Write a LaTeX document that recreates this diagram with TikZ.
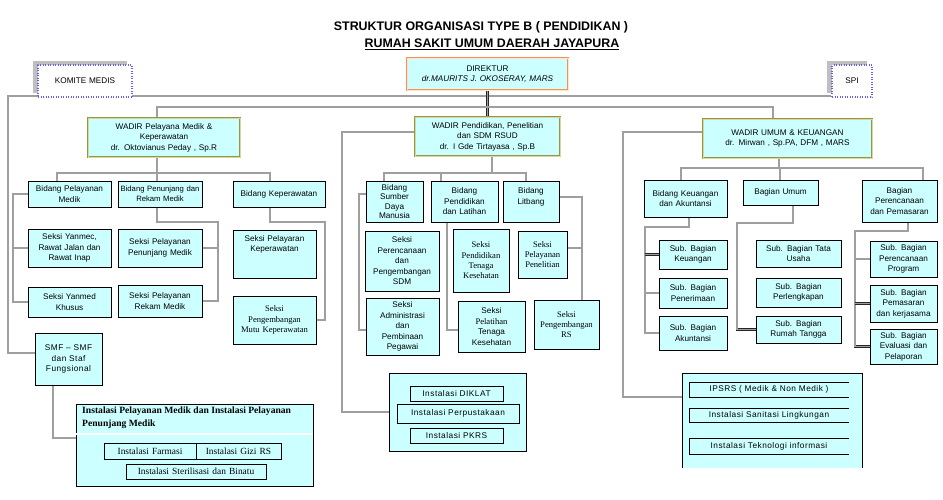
\documentclass[tikz,border=0pt]{standalone}
\usepackage{fontspec}
\setmainfont{Liberation Serif}
\setsansfont{Liberation Sans}
\newfontfamily\sfwide[LetterSpace=6]{Liberation Sans}
\pgfdeclarelayer{bg}
\pgfsetlayers{bg,main}
\definecolor{cy}{RGB}{204,255,255}
\definecolor{olv}{RGB}{150,150,70}
\definecolor{olvin}{RGB}{215,215,160}
\definecolor{org}{RGB}{255,140,80}
\definecolor{dotb}{RGB}{100,100,230}
\newcommand\fs{\sffamily\fontsize{8.2}{10.5}\selectfont}
\newcommand\fr{\rmfamily\fontsize{8.6}{10.3}\selectfont}
\newcommand\fri{\rmfamily\fontsize{9.4}{11}\selectfont}
\newcommand\fw{\sfwide\fontsize{8.3}{10.5}\selectfont}
\tikzset{
 bx/.style={draw=black,line width=0.5pt,fill=cy,inner sep=1pt,align=center,font=\fs},
 wadir/.style={draw=olv,line width=0.6pt,double=olvin,double distance=0.9pt},
 pipe/.style={draw=black!85,line width=0.6pt,double=gray!75,double distance=1.1pt,line join=miter},
 dotbox/.style={fill=white,draw=dotb,dotted,line width=1.3pt},
}
\newcommand\Bx[7][]{%
 \pgfmathsetmacro\bxw{#5-#3}\pgfmathsetmacro\bxh{#6-#4}\pgfmathsetmacro\bxt{#5-#3-2}%
 \pgfmathsetmacro\bxcx{(#3+#5)/2}\pgfmathsetmacro\bxcy{(#4+#6)/2}%
 \node[bx,minimum width=\bxw pt,minimum height=\bxh pt,text width=\bxt pt,#1] (#2) at (\bxcx,\bxcy) {#7};}
\begin{document}
\begin{tikzpicture}[x=1pt,y=-1pt]
\useasboundingbox (0,0) rectangle (943,499);
\begin{pgfonlayer}{bg}
\fill[white] (0,0) rectangle (943,499);
\end{pgfonlayer}

% title
\node[font=\sffamily\bfseries\fontsize{12.4}{14}\selectfont] (t1) at (481,27) {STRUKTUR ORGANISASI TYPE B ( PENDIDIKAN )};
\node[font=\sffamily\bfseries\fontsize{12.4}{14}\selectfont] (t2) at (492,44) {\underline{RUMAH SAKIT UMUM DAERAH JAYAPURA}};

% top
\Bx[draw=org,line width=0.6pt,double=orange!20,double distance=0.9pt]{dir}{407}{58}{568}{90}{DIREKTUR\\\itshape dr.MAURITS J. OKOSERAY, MARS}
\fill[gray!50] (33,61) rectangle (127,93);
\Bx[dotbox]{km}{38}{65}{132}{97}{KOMITE MEDIS}
\fill[gray!50] (827,61) rectangle (867,93);
\Bx[dotbox]{spi}{832}{65}{872}{97}{SPI}

\Bx[wadir]{w1}{88}{118}{240}{157}{WADIR Pelayana Medik \&\\Keperawatan\\dr. Oktovianus Peday , Sp.R}
\Bx[wadir]{w2}{415}{117}{560}{156}{WADIR Pendidikan, Penelitian\\dan SDM RSUD\\dr. I Gde Tirtayasa , Sp.B}
\Bx[wadir]{w3}{703}{119}{872}{158}{WADIR UMUM \& KEUANGAN\\dr. Mirwan , Sp.PA, DFM , MARS}

% left column
\Bx{bpm}{28}{181}{111}{207}{Bidang Pelayanan\\Medik}
\Bx[font=\sffamily\fontsize{7.7}{10}\selectfont]{bpr}{118}{181}{202}{207}{Bidang Penunjang dan\\Rekam Medik}
\Bx{bkp}{233}{181}{325}{207}{Bidang Keperawatan}
\Bx{sym}{28}{229}{111}{267}{Seksi Yanmec,\\Rawat Jalan dan\\Rawat Inap}
\Bx{syk}{28}{287}{111}{317}{Seksi Yanmed\\Khusus}
\Bx{spm}{118}{229}{202}{267}{Seksi Pelayanan\\Penunjang Medik}
\Bx{srm}{118}{285}{202}{317}{Seksi Pelayanan\\Rekam Medik}
\Bx{spk}{233}{230}{316}{278}{Seksi Pelayaran\\Keperawatan\\~\\~}
\Bx[font=\fr]{smk}{233}{296}{316}{344}{Seksi\\Pengembangan\\Mutu Keperawatan}
\Bx[font=\fw]{smf}{35}{333}{102}{385}{SMF – SMF\\dan Staf\\Fungsional}
\Bx{i1}{76}{404}{313}{486}{}
\draw[black,line width=0.4pt,double,double distance=1.2pt] (i1.west |- 0,434) -- (i1.east |- 0,434);
\node[anchor=north west,inner sep=0,align=left,font=\rmfamily\bfseries\fontsize{9.6}{12.5}\selectfont] (i1h) at (82,407) {Instalasi Pelayanan Medik dan Instalasi Pelayanan\\Penunjang Medik};
\Bx[font=\fri]{far}{104}{443}{196}{459}{Instalasi Farmasi}
\Bx[font=\fri]{gizi}{196}{443}{281}{459}{Instalasi Gizi RS}
\Bx[font=\fri]{ster}{126}{464}{266}{479}{Instalasi Sterilisasi dan Binatu}

% middle column
\Bx[font=\fs\fontsize{8.2}{9.2}\selectfont]{bsdm}{366}{181}{423}{222}{Bidang\\Sumber\\Daya\\Manusia}
\Bx{bpl}{431}{181}{498}{222}{Bidang\\Pendidikan\\dan Latihan}
\Bx{blit}{503}{181}{559}{222}{Bidang\\Litbang\\~}
\Bx{sps}{365}{231}{439}{291}{Seksi\\Perencanaan\\dan\\Pengembangan\\SDM}
\Bx{sap}{366}{298}{439}{355}{Seksi\\Administrasi\\dan\\Pembinaan\\Pegawai}
\Bx[font=\fr]{spd}{453}{229}{509}{292}{Seksi\\Pendidikan\\Tenaga\\Kesehatan}
\Bx{spl}{458}{301}{525}{352}{Seksi\\{\fr Pelatihan}\\Tenaga\\Kesehatan}
\Bx[font=\fr]{spp}{518}{231}{567}{278}{Seksi\\Pelayanan\\Penelitian}
\Bx[font=\fr]{sprs}{534}{300}{599}{349}{Seksi\\Pengembangan\\RS}
\Bx{i2}{389}{373}{526}{451}{}
\Bx[font=\fw]{dik}{410}{386}{503}{401}{Instalasi DIKLAT}
\Bx[font=\fw]{per}{397}{404}{519}{423}{Instalasi Perpustakaan}
\Bx[font=\fw]{pk}{410}{428}{503}{443}{Instalasi PKRS}

% right column
\Bx{bka}{644}{180}{727}{217}{Bidang Keuangan\\dan Akuntansi}
\Bx{bum}{743}{180}{818}{205}{Bagian Umum}
\Bx{bpp}{862}{180}{937}{222}{Bagian\\Perencanaan\\dan Pemasaran}
\Bx{sbk}{659}{240}{727}{269}{Sub. Bagian\\Keuangan}
\Bx{sbp}{659}{278}{727}{308}{Sub. Bagian\\Penerimaan}
\Bx{sba}{659}{316}{727}{350}{Sub. Bagian\\Akuntansi}
\Bx{sbtu}{756}{240}{841}{267}{Sub. Bagian Tata\\Usaha}
\Bx{sbpl}{756}{278}{841}{307}{Sub. Bagian\\Perlengkapan}
\Bx{sbrt}{756}{316}{841}{343}{Sub. Bagian\\Rumah Tangga}
\Bx{sbpr}{870}{241}{937}{277}{Sub. Bagian\\Perencanaan\\Program}
\Bx{sbpk}{870}{285}{937}{322}{Sub. Bagian\\Pemasaran\\dan kerjasama}
\Bx{sbep}{870}{329}{937}{364}{Sub. Bagian\\Evaluasi dan\\Pelaporan}
\Bx[draw=none]{i3}{682}{373}{862}{468}{}
\draw[line width=0.5pt] (i3.south west) -- (i3.north west) -- (i3.north east) -- (i3.south east);
\Bx[draw=none,font=\fw]{ips}{689}{382}{849}{397}{IPSRS ( Medik \& Non Medik )}
\Bx[draw=none,font=\fw]{san}{689}{408}{849}{422}{Instalasi Sanitasi Lingkungan}
\Bx[draw=none,font=\fw]{tek}{689}{438}{849}{454}{Instalasi Teknologi informasi}
\foreach \n in {ips,san,tek}{\draw[line width=0.5pt] (\n.north east) -- (\n.north west) -- (\n.south west) -- (\n.south east);}

% connectors
\begin{pgfonlayer}{bg}
\coordinate (lt) at (8,96);
\draw[pipe] ([yshift=6pt]smf.west) -| (lt) -- ([yshift=-15pt]spi.west);
\draw[pipe] (dir.south) -- (w2.north);
\coordinate (b1) at (157,107); \coordinate (b3) at (773,107);
\draw[pipe] (b1 |- w1.north) -- (b1) -- (b3) -- (b3 |- w3.north);
% wadir1
\coordinate (p1) at (57,173); \coordinate (p2) at (157,173); \coordinate (p3) at (270,173);
\draw[pipe] (p2 |- w1.south) -- (p2);
\draw[pipe] (p1 |- bpm.north) -- (p1) -- (p3) -- (p3 |- bkp.north);
\draw[pipe] (p2) -- (p2 |- bpr.north);
\coordinate (q1) at (13,194);
\draw[pipe] (bpm.west) -- (bpm.west -| q1) |- (syk.west);
\draw[pipe] (sym.west -| q1) -- (sym.west);
\coordinate (q2) at (218,222);
\draw[pipe] (p2 |- bpr.south) |- (q2) |- (srm.east);
\draw[pipe] (spm.east) -- (spm.east -| q2);
\coordinate (q3) at (325,222);
\draw[pipe] (p3 |- bkp.south) |- (q3) |- (smk.east);
\coordinate (q4) at (53,438);
\draw[pipe] (q4 |- smf.south) -- (q4) -- (q4 -| i1.west);
% wadir2
\coordinate (m0) at (342,132);
\draw[pipe] (w2.west |- m0) -- (m0) |- (i2.west);
\coordinate (m1) at (384,173); \coordinate (m2) at (441,173); \coordinate (m3) at (526,173); \coordinate (m4) at (492,173);
\draw[pipe] (m4 |- w2.south) -- (m4);
\draw[pipe] (m1 |- bsdm.north) -- (m1) -- (m3) -- (m3 |- blit.north);
\draw[pipe] (m2) -- (m2 |- bpl.north);
\coordinate (m5) at (359,194);
\draw[pipe] (bsdm.west |- m5) -- (m5) |- ([yshift=-3.5pt]sap.west);
\coordinate (m6) at (447,330);
\draw[pipe] (m6 |- bpl.south) -- (m6) -- (m6 -| spl.west);
\coordinate (m7) at (582,197);
\draw[pipe] (blit.east |- m7) -- (m7) -- (m7 |- sprs.north);
\draw[pipe] ([yshift=6.5pt]spp.east) -- ([yshift=6.5pt]spp.east -| m7);
% wadir3
\coordinate (r0) at (623,132);
\draw[pipe] (w3.west |- r0) -- (r0) |- ([yshift=23.5pt]i3.west);
\coordinate (r1) at (681,168); \coordinate (r2) at (780,168); \coordinate (r3) at (923,168); \coordinate (r4) at (779,168);
\draw[pipe] (r4 |- w3.south) -- (r4);
\draw[pipe] (r1 |- bka.north) -- (r1) -- (r3) -- (r3 |- bpp.north);
\draw[pipe] (r2) -- (r2 |- bum.north);
\coordinate (r5) at (689,227); \coordinate (r6) at (645,227);
\draw[pipe] (r5 |- bka.south) -- (r5) -- (r6) |- (sba.west);
\draw[pipe] (sbk.west) -- (sbk.west -| r6);
\draw[pipe] (sbp.west) -- (sbp.west -| r6);
\coordinate (r7) at (793,223); \coordinate (r8) at (737,223);
\draw[pipe] (r7 |- bum.south) -- (r7) -- (r8) |- (sbrt.west);
\coordinate (s1) at (908,231); \coordinate (s2) at (855,231);
\draw[pipe] (s1 |- bpp.south) -- (s1) -- (s2) |- (sbep.west);
\draw[pipe] (sbpr.west) -- (sbpr.west -| s2);
\draw[pipe] (sbpk.west) -- (sbpk.west -| s2);
\end{pgfonlayer}
\end{tikzpicture}
\end{document}
